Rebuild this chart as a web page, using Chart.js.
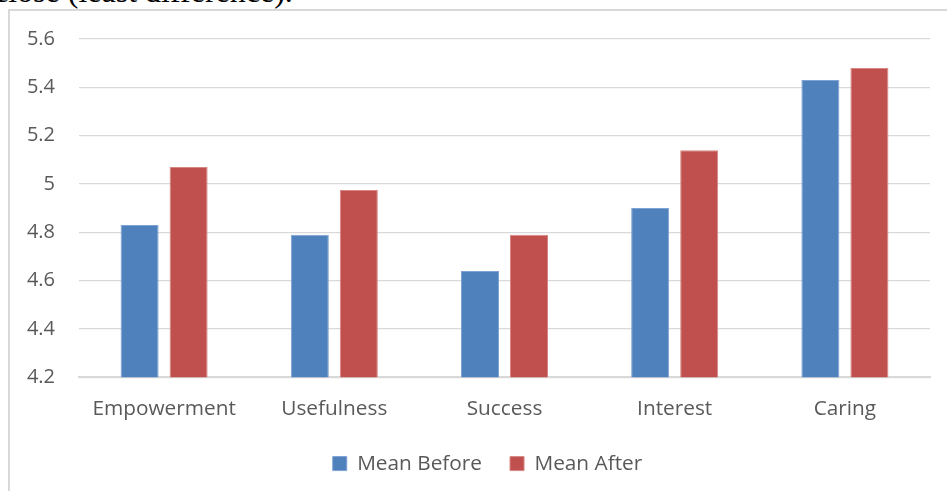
<!DOCTYPE html>
<html>
<head>
<meta charset="utf-8">
<script src="https://cdn.jsdelivr.net/npm/chart.js@4/dist/chart.umd.min.js"></script>
<style>
  html, body { margin: 0; padding: 0; background: #fff; overflow: hidden; }
  body { width: 947px; height: 491px; position: relative; }
  .caption {
    position: absolute; left: -6px; top: -27px;
    font-family: "Liberation Serif", "Times New Roman", serif;
    font-size: 32px; color: #000; white-space: nowrap;
  }
  .frame {
    position: absolute; left: 8px; top: 9px; width: 1000px; height: 600px;
    border-left: 2px solid #d9d9d9; border-top: 2px solid #d9d9d9;
  }
  #wrap { position: absolute; left: 9px; top: 0; width: 958px; height: 491px; }
</style>
</head>
<body>
<div class="caption">close (least difference).</div>
<div class="frame"></div>
<div id="wrap"><canvas id="chart" width="958" height="491"></canvas></div>
<script>
const categories = ["Empowerment", "Usefulness", "Success", "Interest", "Caring"];
const meanBefore = [4.83, 4.79, 4.64, 4.90, 5.43];
const meanAfter  = [5.07, 4.975, 4.79, 5.14, 5.48];
const seriesNames = ["Mean Before", "Mean After"];
const yTicks = [4.2, 4.4, 4.6, 4.8, 5, 5.2, 5.4, 5.6];

const textColor = "#595959";
const gridColor = "#d9d9d9";
const fontFamily = "'Open Sans', 'Noto Sans', sans-serif";

// centre the legend on the whole chart frame rather than on the padded layout area
const legendOffset = {
  id: "legendOffset",
  afterLayout(chart) {
    const lg = chart.legend;
    if (!lg) return;
    lg.left += 18; lg.right += 18;
    lg.top -= 15; lg.bottom -= 15;
  }
};

new Chart(document.getElementById("chart"), {
  type: "bar",
  data: {
    labels: categories,
    datasets: [
      {
        label: seriesNames[0], data: meanBefore,
        backgroundColor: "#4f81bd", borderColor: "#7ea2d3", borderWidth: 1,
        categoryPercentage: 0.576, barPercentage: 0.776
      },
      {
        label: seriesNames[1], data: meanAfter,
        backgroundColor: "#c0504d", borderColor: "#d68784", borderWidth: 1,
        categoryPercentage: 0.576, barPercentage: 0.776
      }
    ]
  },
  plugins: [legendOffset],
  options: {
    responsive: false,
    animation: false,
    layout: { padding: { left: 0, right: 37, top: 39, bottom: -8 } },
    plugins: {
      tooltip: { enabled: false },
      legend: {
        position: "bottom",
        labels: {
          color: textColor,
          font: { family: fontFamily, size: 20.8 },
          boxWidth: 14, boxHeight: 14,
          padding: 28
        }
      }
    },
    scales: {
      x: {
        grid: { display: false, drawTicks: false },
        border: { display: true, color: gridColor, width: 2 },
        ticks: { color: textColor, font: { family: fontFamily, size: 20.8 }, padding: 19, maxRotation: 0 }
      },
      y: {
        min: 4.2, max: 5.6,
        afterBuildTicks: (axis) => { axis.ticks = yTicks.map(v => ({ value: v })); },
        afterFit: (axis) => { axis.width = 70; },
        grid: { color: gridColor, lineWidth: 1.3, drawTicks: false },
        border: { display: false },
        ticks: {
          color: textColor, font: { family: fontFamily, size: 20 }, padding: 24,
          callback: (v) => String(Math.round(v * 10) / 10)
        }
      }
    }
  }
});
</script>
</body>
</html>
